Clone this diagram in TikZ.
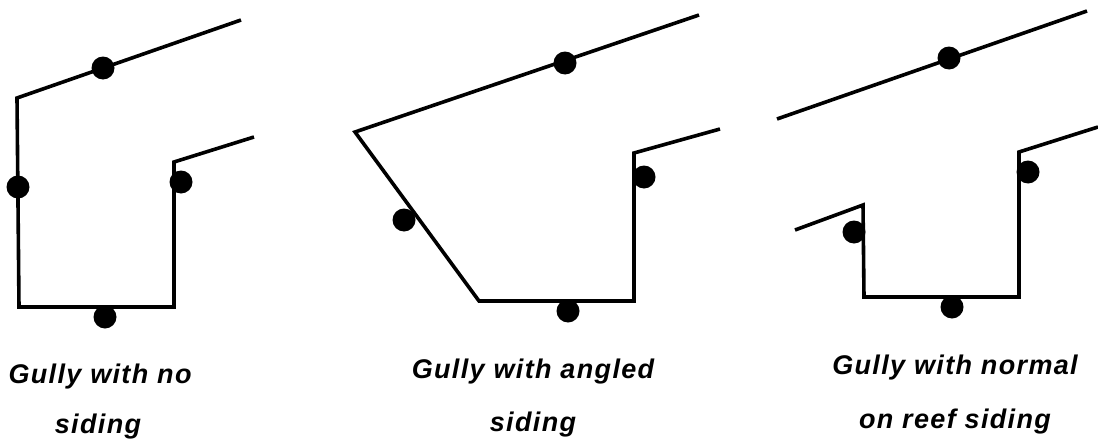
\documentclass[tikz,border=0pt]{standalone}
\usepackage{fontspec}
\setmainfont{Liberation Sans}
\usepackage{xcolor}
\usepackage{tikz}
\usetikzlibrary{positioning}

\begin{document}
\begin{tikzpicture}[
                x=1pt, y=-1pt,
                wall/.style={line width=3.6pt, line join=miter, color=black},
                gauge/.style={circle, fill=black, minimum size=23pt, inner sep=0pt},
                caption/.style={font=\fontsize{27pt}{30pt}\selectfont\bfseries\itshape\addfontfeatures{LetterSpace=5}, color=black}
                ]
                \useasboundingbox (0,0) rectangle (1098,439);

                % first gully
                \coordinate (a1) at (241,20);
                \coordinate (a2) at (17,98);
                \coordinate (a3) at (19,307);
                \coordinate (a4) at (174,307);
                \coordinate (a5) at (174,162);
                \coordinate (a6) at (254,137);
                \draw[wall] (a1) -- (a2) -- (a3) -- (a4) -- (a5) -- (a6);
                \node[gauge] (g1) at (103,68) {};
                \node[gauge] (g2) at (18,187) {};
                \node[gauge] (g3) at (181,182) {};
                \node[gauge] (g4) at (105,317) {};

                % second gully
                \coordinate (b1) at (699,15);
                \coordinate (b2) at (355,132);
                \coordinate (b3) at (479,301);
                \coordinate (b4) at (634,301);
                \coordinate (b5) at (634,153);
                \coordinate (b6) at (720,129);
                \draw[wall] (b1) -- (b2) -- (b3) -- (b4) -- (b5) -- (b6);
                \node[gauge] (g5) at (565,63) {};
                \node[gauge] (g6) at (404,220) {};
                \node[gauge] (g7) at (644,177) {};
                \node[gauge] (g8) at (568,311) {};

                % third gully
                \coordinate (c1) at (1087,11);
                \coordinate (c2) at (777,119);
                \coordinate (c3) at (795,230);
                \coordinate (c4) at (863,205);
                \coordinate (c5) at (864,297);
                \coordinate (c6) at (1019,297);
                \coordinate (c7) at (1019,152);
                \coordinate (c8) at (1098,127);
                \draw[wall] (c1) -- (c2);
                \draw[wall] (c3) -- (c4) -- (c5) -- (c6) -- (c7) -- (c8);
                \node[gauge] (g9) at (949,58) {};
                \node[gauge] (g10) at (854,232) {};
                \node[gauge] (g11) at (1028,172) {};
                \node[gauge] (g12) at (952,307) {};

                % captions
                \node[caption] (t1) at (100,377) {Gully with no};
                \node[caption] (t2) at (98,427) {siding};
                \node[caption] (t3) at (533,372) {Gully with angled};
                \node[caption] (t4) at (533,425) {siding};
                \node[caption] (t5) at (955,368) {Gully with normal};
                \node[caption] (t6) at (955,422) {on reef siding};
            \end{tikzpicture}
\end{document}
